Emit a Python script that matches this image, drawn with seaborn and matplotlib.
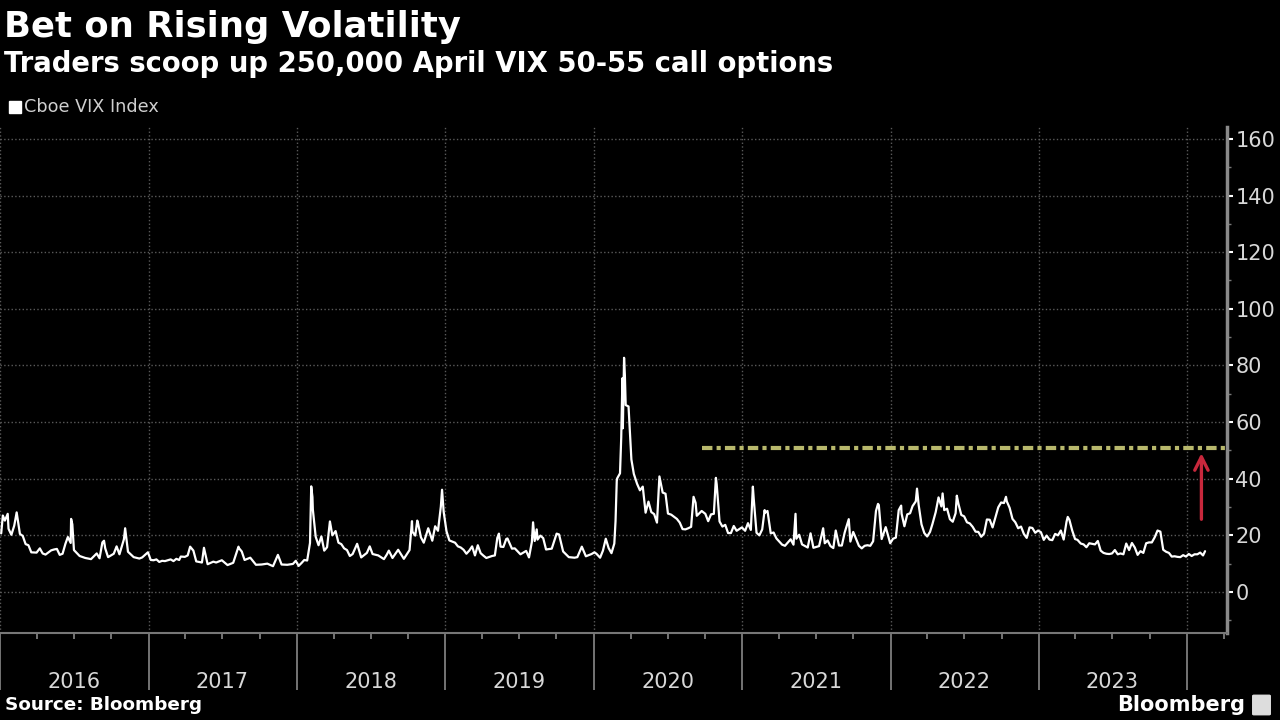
import matplotlib
matplotlib.use("Agg")
import pandas as pd
import seaborn as sns
import matplotlib.pyplot as plt
import matplotlib.dates as mdates
from matplotlib.ticker import MultipleLocator, FuncFormatter
from matplotlib.patches import Rectangle, FancyBboxPatch

# Cboe VIX closes, (MM-DD, value) per year
vix_2016 = [("01-04", 20.7), ("01-08", 27.0), ("01-13", 25.2), ("01-20", 27.6), ("01-22", 22.3),
            ("01-29", 20.2), ("02-05", 23.4), ("02-11", 28.1), ("02-19", 20.5), ("02-26", 19.8),
            ("03-04", 16.9), ("03-11", 16.5), ("03-18", 14.0), ("03-31", 13.9), ("04-08", 15.4),
            ("04-15", 13.6), ("04-22", 13.2), ("05-06", 14.7), ("05-13", 15.0), ("05-20", 15.2),
            ("05-27", 13.1), ("06-03", 13.5), ("06-10", 17.0), ("06-16", 19.4), ("06-23", 17.3),
            ("06-24", 25.8), ("06-27", 23.9), ("07-01", 14.8), ("07-15", 12.7), ("07-29", 12.0),
            ("08-12", 11.6), ("08-26", 13.6), ("09-02", 11.9), ("09-09", 17.5), ("09-13", 18.1),
            ("09-16", 15.4), ("09-23", 12.3), ("10-07", 13.5), ("10-14", 16.1), ("10-21", 13.3),
            ("11-01", 18.6), ("11-04", 22.5), ("11-11", 14.2), ("11-25", 12.3), ("12-09", 11.8),
            ("12-16", 12.2), ("12-30", 14.0)]
vix_2017 = [("01-06", 11.3), ("01-13", 11.2), ("01-20", 11.5), ("01-27", 10.6), ("02-03", 11.0),
            ("02-10", 10.9), ("02-24", 11.5), ("03-03", 10.9), ("03-10", 11.7), ("03-17", 11.3),
            ("03-21", 12.5), ("03-31", 12.4), ("04-07", 12.9), ("04-13", 16.0), ("04-21", 14.6),
            ("04-28", 10.8), ("05-12", 10.4), ("05-17", 15.6), ("05-26", 9.8), ("06-09", 10.7),
            ("06-16", 10.4), ("06-30", 11.2), ("07-14", 9.5), ("07-28", 10.3), ("08-10", 16.0),
            ("08-11", 15.5), ("08-18", 14.3), ("08-25", 11.3), ("09-08", 12.1), ("09-22", 9.6),
            ("10-06", 9.7), ("10-20", 10.0), ("11-03", 9.1), ("11-15", 13.1), ("11-24", 9.7),
            ("12-08", 9.6), ("12-22", 9.9), ("12-29", 11.0)]
vix_2018 = [("01-05", 9.2), ("01-12", 10.2), ("01-19", 11.3), ("01-26", 11.1), ("02-02", 17.3),
            ("02-05", 37.3), ("02-08", 33.5), ("02-09", 29.1), ("02-16", 19.5), ("02-23", 16.5),
            ("03-02", 19.6), ("03-09", 14.6), ("03-16", 15.8), ("03-23", 24.9), ("03-29", 20.0),
            ("04-06", 21.5), ("04-13", 17.4), ("04-20", 16.9), ("04-27", 15.4), ("05-04", 14.8),
            ("05-11", 12.7), ("05-18", 13.4), ("05-29", 17.0), ("06-08", 12.2), ("06-22", 13.8),
            ("06-29", 16.1), ("07-06", 13.4), ("07-20", 12.9), ("08-03", 11.6), ("08-10", 13.2),
            ("08-15", 14.6), ("08-24", 12.0), ("09-07", 14.9), ("09-21", 11.7), ("10-05", 14.8),
            ("10-11", 25.0), ("10-12", 21.3), ("10-19", 19.9), ("10-24", 25.2), ("10-26", 24.2),
            ("11-02", 19.3), ("11-09", 17.4), ("11-20", 22.5), ("11-30", 18.1), ("12-07", 23.2),
            ("12-14", 21.6), ("12-21", 30.1), ("12-24", 36.1), ("12-28", 28.3)]
vix_2019 = [("01-04", 21.4), ("01-11", 18.2), ("01-18", 17.8), ("01-25", 17.4), ("02-01", 16.1),
            ("02-08", 15.7), ("02-15", 14.9), ("02-22", 13.5), ("03-01", 14.6), ("03-08", 16.1),
            ("03-15", 12.9), ("03-22", 16.5), ("03-29", 13.7), ("04-05", 12.8), ("04-12", 12.0),
            ("04-26", 12.7), ("05-03", 12.9), ("05-09", 19.1), ("05-13", 20.6), ("05-17", 16.0),
            ("05-24", 15.9), ("05-31", 18.7), ("06-03", 18.9), ("06-14", 15.3), ("06-21", 15.4),
            ("07-05", 13.3), ("07-19", 14.5), ("07-26", 12.2), ("08-02", 17.6), ("08-05", 24.6),
            ("08-09", 18.0), ("08-14", 22.1), ("08-16", 18.5), ("08-23", 19.9), ("08-30", 19.0),
            ("09-06", 15.0), ("09-20", 15.3), ("10-02", 20.6), ("10-08", 20.3), ("10-18", 14.3),
            ("11-01", 12.3), ("11-15", 12.1), ("11-22", 12.3), ("12-03", 16.0), ("12-13", 12.6),
            ("12-27", 13.4)]
vix_2020 = [("01-03", 14.0), ("01-08", 13.5), ("01-17", 12.1), ("01-24", 14.6), ("01-31", 18.8),
            ("02-07", 15.5), ("02-14", 13.7), ("02-21", 17.1), ("02-24", 25.0), ("02-27", 39.2),
            ("02-28", 40.1), ("03-06", 41.9), ("03-09", 54.5), ("03-12", 75.5), ("03-13", 57.8),
            ("03-16", 82.7), ("03-18", 76.5), ("03-20", 66.0), ("03-27", 65.5), ("04-03", 46.8),
            ("04-09", 41.7), ("04-17", 38.2), ("04-24", 35.9), ("05-01", 37.2), ("05-08", 28.0),
            ("05-15", 31.9), ("05-22", 28.2), ("05-29", 27.5), ("06-05", 24.5), ("06-11", 40.8),
            ("06-19", 35.1), ("06-26", 34.7), ("07-02", 27.7), ("07-10", 27.3), ("07-24", 25.8),
            ("07-31", 24.5), ("08-07", 22.2), ("08-14", 22.1), ("08-21", 22.5), ("08-28", 23.0),
            ("09-03", 33.6), ("09-08", 31.5), ("09-11", 26.9), ("09-23", 28.6), ("10-02", 27.6),
            ("10-09", 25.0), ("10-16", 27.4), ("10-23", 27.6), ("10-28", 40.3), ("10-30", 38.0),
            ("11-06", 24.9), ("11-13", 23.1), ("11-20", 23.7), ("11-27", 20.8), ("12-04", 20.8),
            ("12-11", 23.3), ("12-18", 21.6), ("12-31", 22.8)]
vix_2021 = [("01-08", 21.6), ("01-15", 24.3), ("01-22", 21.9), ("01-27", 37.2), ("01-29", 33.1),
            ("02-05", 20.9), ("02-12", 20.0), ("02-19", 22.1), ("02-25", 28.9), ("02-26", 28.0),
            ("03-04", 28.6), ("03-12", 20.7), ("03-19", 21.0), ("03-26", 18.9), ("04-09", 16.7),
            ("04-16", 16.3), ("04-30", 18.6), ("05-07", 16.7), ("05-12", 27.6), ("05-14", 18.8),
            ("05-21", 20.2), ("05-28", 16.8), ("06-11", 15.7), ("06-18", 20.7), ("06-25", 15.6),
            ("07-09", 16.2), ("07-19", 22.5), ("07-23", 17.2), ("07-30", 18.2), ("08-06", 16.2),
            ("08-13", 15.5), ("08-19", 21.7), ("08-27", 16.4), ("09-03", 16.4), ("09-10", 21.0),
            ("09-20", 25.7), ("09-24", 17.8), ("10-01", 21.2), ("10-08", 18.8), ("10-15", 16.3),
            ("10-22", 15.4), ("10-29", 16.3), ("11-05", 16.5), ("11-12", 16.3), ("11-19", 17.9),
            ("11-26", 28.6), ("12-01", 31.1), ("12-03", 30.7), ("12-10", 18.7), ("12-17", 21.6),
            ("12-20", 22.9), ("12-31", 17.2)]
vix_2022 = [("01-07", 18.8), ("01-14", 19.2), ("01-21", 28.9), ("01-27", 30.5), ("01-28", 27.7),
            ("02-04", 23.2), ("02-11", 27.4), ("02-18", 27.8), ("02-24", 30.3), ("03-04", 32.0),
            ("03-07", 36.5), ("03-11", 30.8), ("03-18", 23.9), ("03-25", 20.8), ("04-01", 19.6),
            ("04-08", 21.2), ("04-14", 24.0), ("04-22", 28.2), ("04-29", 33.4), ("05-06", 30.2),
            ("05-09", 34.8), ("05-13", 28.9), ("05-20", 29.4), ("05-27", 25.7), ("06-03", 24.8),
            ("06-10", 27.8), ("06-13", 34.0), ("06-17", 31.1), ("06-24", 27.2), ("07-01", 26.7),
            ("07-08", 24.6), ("07-15", 24.2), ("07-22", 23.0), ("07-29", 21.3), ("08-05", 21.2),
            ("08-12", 19.5), ("08-19", 20.6), ("08-26", 25.6), ("09-02", 25.5), ("09-09", 22.8),
            ("09-16", 26.3), ("09-23", 29.9), ("09-30", 31.6), ("10-07", 31.4), ("10-12", 33.6),
            ("10-14", 32.0), ("10-21", 29.7), ("10-28", 25.8), ("11-04", 24.6), ("11-11", 22.5),
            ("11-18", 23.1), ("11-25", 20.5), ("12-02", 19.1), ("12-09", 22.8), ("12-16", 22.6),
            ("12-23", 20.9), ("12-30", 21.7)]
vix_2023 = [("01-06", 21.1), ("01-13", 18.4), ("01-20", 19.9), ("01-27", 18.5), ("02-03", 18.3),
            ("02-10", 20.5), ("02-17", 20.0), ("02-24", 21.7), ("03-03", 18.5), ("03-10", 24.8),
            ("03-13", 26.5), ("03-17", 25.5), ("03-24", 21.7), ("03-31", 18.7), ("04-06", 18.4),
            ("04-14", 17.1), ("04-21", 16.8), ("04-28", 15.8), ("05-05", 17.2), ("05-12", 17.0),
            ("05-19", 16.8), ("05-26", 18.0), ("06-02", 14.6), ("06-09", 13.8), ("06-16", 13.5),
            ("06-23", 13.4), ("06-30", 13.6), ("07-07", 14.8), ("07-14", 13.3), ("07-21", 13.6),
            ("07-28", 13.3), ("08-04", 17.1), ("08-11", 14.8), ("08-18", 17.3), ("08-25", 15.7),
            ("09-01", 13.1), ("09-08", 14.4), ("09-15", 13.8), ("09-22", 17.2), ("09-29", 17.5),
            ("10-06", 17.5), ("10-13", 19.3), ("10-20", 21.7), ("10-27", 21.3), ("11-03", 14.9),
            ("11-10", 14.2), ("11-17", 13.8), ("11-24", 12.5), ("12-01", 12.6), ("12-08", 12.4),
            ("12-15", 12.3), ("12-22", 13.0), ("12-29", 12.5)]
vix_2024 = [("01-05", 13.4), ("01-12", 12.7), ("01-19", 13.3), ("01-26", 13.3), ("02-02", 13.9),
            ("02-09", 12.9), ("02-14", 14.4)]

series_label = "Cboe VIX Index"
strike_level = 51
strike_start = "2020-09-24"
arrow_date = "2024-02-05"
arrow_from, arrow_to = 24.7, 50.0
x_start, x_end = "2016-01-01", "2024-04-08"

by_year = {2016: vix_2016, 2017: vix_2017, 2018: vix_2018, 2019: vix_2019, 2020: vix_2020,
           2021: vix_2021, 2022: vix_2022, 2023: vix_2023, 2024: vix_2024}
df = pd.DataFrame(
    [(pd.Timestamp(f"{yr}-{md}"), v) for yr, pts in by_year.items() for md, v in pts],
    columns=["ds", "vix"],
)

sns.set_theme(style="dark")
plt.rcParams["font.family"] = ["DejaVu Sans"]

fig = plt.figure(figsize=(12.8, 7.2), dpi=100, facecolor="black")
ax = fig.add_axes([0.0, 0.1208, 0.9586, 0.7028])
ax.set_facecolor("black")

sns.lineplot(data=df, x="ds", y="vix", color="white", lw=1.6, ax=ax, legend=False, zorder=3)

# strike band reference line + arrow
x0, x1 = mdates.date2num(pd.Timestamp(x_start)), mdates.date2num(pd.Timestamp(x_end))
ax.plot([mdates.date2num(pd.Timestamp(strike_start)), x1], [strike_level, strike_level],
        color="#b8b86c", lw=3, ls=(0, (2.5, 1, 1, 1)), zorder=2)
xa = mdates.date2num(pd.Timestamp(arrow_date))
ax.annotate("", xy=(xa, arrow_to), xytext=(xa, arrow_from),
            arrowprops=dict(arrowstyle="->", color="#c8283c", lw=2.4, mutation_scale=24))

ax.set_xlim(x0, x1)
ax.set_ylim(-14.5, 164.2)

# y axis on the right
ax.yaxis.tick_right()
ax.yaxis.set_major_locator(MultipleLocator(20))
ax.yaxis.set_minor_locator(MultipleLocator(10))
ax.tick_params(axis="y", which="both", right=True, left=False)
ax.tick_params(axis="y", which="major", length=4, width=1.5, colors="white",
               labelcolor="#d8d8d8", labelsize=15, pad=2)
ax.tick_params(axis="y", which="minor", length=3, width=1, colors="#777777")

# x axis: year separators, quarter ticks, year labels centred
ax.xaxis.set_major_locator(mdates.YearLocator())
ax.xaxis.set_major_formatter(FuncFormatter(lambda v, p: ""))
ax.xaxis.set_minor_locator(mdates.MonthLocator(bymonth=[1, 4, 7, 10]))
ax.xaxis.set_minor_formatter(FuncFormatter(
    lambda v, p: str(mdates.num2date(v).year) if mdates.num2date(v).month == 7 else ""))
ax.tick_params(axis="x", which="both", bottom=True, direction="out")
ax.tick_params(axis="x", which="major", length=41, width=1.2, colors="#888888")
ax.tick_params(axis="x", which="minor", length=4, width=1.2, colors="#888888",
               labelcolor="#d8d8d8", labelsize=15, pad=24)
ax.set(xlabel="", ylabel="")

ax.grid(True, which="major", axis="both", color="#5a5a5a", ls=":", lw=1)
for s in ["left", "top"]:
    ax.spines[s].set_visible(False)
ax.spines["right"].set_color("#8a8a8a")
ax.spines["right"].set_linewidth(2.5)
ax.spines["bottom"].set_color("#777777")
ax.spines["bottom"].set_linewidth(1.5)

# headings
fig.text(0.003, 0.962, "Bet on Rising Volatility", color="white", fontsize=25.5,
         fontweight="bold", va="center")
fig.text(0.003, 0.911, "Traders scoop up 250,000 April VIX 50-55 call options", color="white",
         fontsize=19.8, fontweight="bold", va="center")
fig.patches.append(Rectangle((9 / 1280, 1 - 113 / 720), 12 / 1280, 12 / 720,
                             transform=fig.transFigure, color="white"))
fig.text(24 / 1280, 1 - 107 / 720, series_label, color="#cfcfcf", fontsize=12.7, va="center")
fig.text(0.004, 0.021, "Source: Bloomberg", color="white", fontsize=13.2,
         fontweight="bold", va="center")
fig.text(0.973, 0.021, "Bloomberg", color="white", fontsize=15, fontweight="bold",
         va="center", ha="right")
fig.patches.append(FancyBboxPatch((1254 / 1280, 1 - 714 / 720), 15 / 1280, 18 / 720,
                                  boxstyle="round,pad=0.001", transform=fig.transFigure,
                                  color="#dddddd"))

fig.savefig("out.png", dpi=100, facecolor="black")
